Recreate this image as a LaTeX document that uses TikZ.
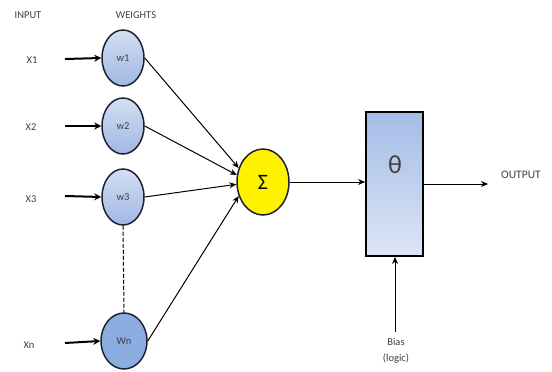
\documentclass[tikz,border=0pt]{standalone}
\usepackage{fontspec}
\setmainfont{Carlito}
\usetikzlibrary{arrows.meta,shapes.geometric}
\definecolor{txt}{HTML}{404040}
\definecolor{wtop}{HTML}{D3DFF3}
\definecolor{wbot}{HTML}{9FB8E3}
\definecolor{wn}{HTML}{8CADE0}
\definecolor{boxtop}{HTML}{A3BCE6}
\definecolor{boxbot}{HTML}{DCE5F5}
\definecolor{edge}{HTML}{1C2233}
\tikzset{
  lbl/.style={text=txt, font=\fontsize{10.5}{12}\selectfont, inner sep=0pt},
  weight/.style={ellipse, draw=edge, line width=1.5pt, minimum width=42pt, minimum height=56pt, top color=wtop, bottom color=wbot, text=txt, font=\fontsize{10.5}{12}\selectfont, inner sep=0pt},
  inarrow/.style={line width=2pt, -{Stealth[length=7pt,width=7pt]}},
  conn/.style={line width=1pt, -{Stealth[length=7pt,width=6pt]}},
}
\begin{document}
\begin{tikzpicture}[x=1pt,y=-1pt]
\useasboundingbox (0,0) rectangle (552,372);
\node[lbl] at (28,15) {INPUT};
\node[lbl] at (136,15) {WEIGHTS};
% inputs
\node[lbl] (x1) at (32,60) {X1};
\node[lbl] (x2) at (31,127) {X2};
\node[lbl] (x3) at (31,199) {X3};
\node[lbl] (xn) at (29,345) {Xn};
% weights
\node[weight] (w1) at (123,58) {w1};
\node[weight] (w2) at (123,126) {w2};
\node[weight] (w3) at (123,197) {w3};
\node[weight, minimum width=46pt, minimum height=56pt, top color=wn, bottom color=wn] (wn) at (124,341) {Wn};
\coordinate (a1) at (65,59);
\coordinate (a2) at (65,126);
\coordinate (a3) at (65,196);
\coordinate (an) at (65,343);
\draw[inarrow] (a1) -- (w1.west);
\draw[inarrow] (a2) -- (w2.west);
\draw[inarrow] (a3) -- (w3.west);
\draw[inarrow] (an) -- (wn.west);
\draw[line width=1pt, dash pattern=on 4pt off 2pt] (w3.south) -- (wn.north);
% sum
\node[ellipse, draw=edge, line width=1.5pt, fill=yellow, minimum width=52pt, minimum height=66pt, font=\fontsize{22}{24}\selectfont, inner sep=0pt] (sum) at (263,182) {Σ};
\draw[conn] (w1.east) -- (sum.150);
\draw[conn] (w2.east) -- (sum.165);
\draw[conn] (w3.east) -- (sum.185);
\draw[conn] (wn.east) -- (sum.210);
% threshold box
\node[draw=black, line width=1.8pt, minimum width=57pt, minimum height=144pt, top color=boxtop, bottom color=boxbot, inner sep=0pt] (box) at (394.5,184) {};
\node[text=txt, font=\fontsize{26}{28}\selectfont, inner sep=0pt] (theta) at (395,165) {θ};
\draw[conn] (sum.east) -- (sum.east -| box.west);
\coordinate (out) at (488,184);
\draw[conn] (box.east |- out) -- (out);
\node[lbl, font=\fontsize{11.5}{13}\selectfont] (output) at (521,175) {OUTPUT};
% bias
\coordinate (b) at (395,332);
\draw[conn] (b) -- (b |- box.south);
\node[lbl] (bias) at (396,342) {Bias};
\node[lbl] (logic) at (396,359) {(logic)};
\end{tikzpicture}
\end{document}
